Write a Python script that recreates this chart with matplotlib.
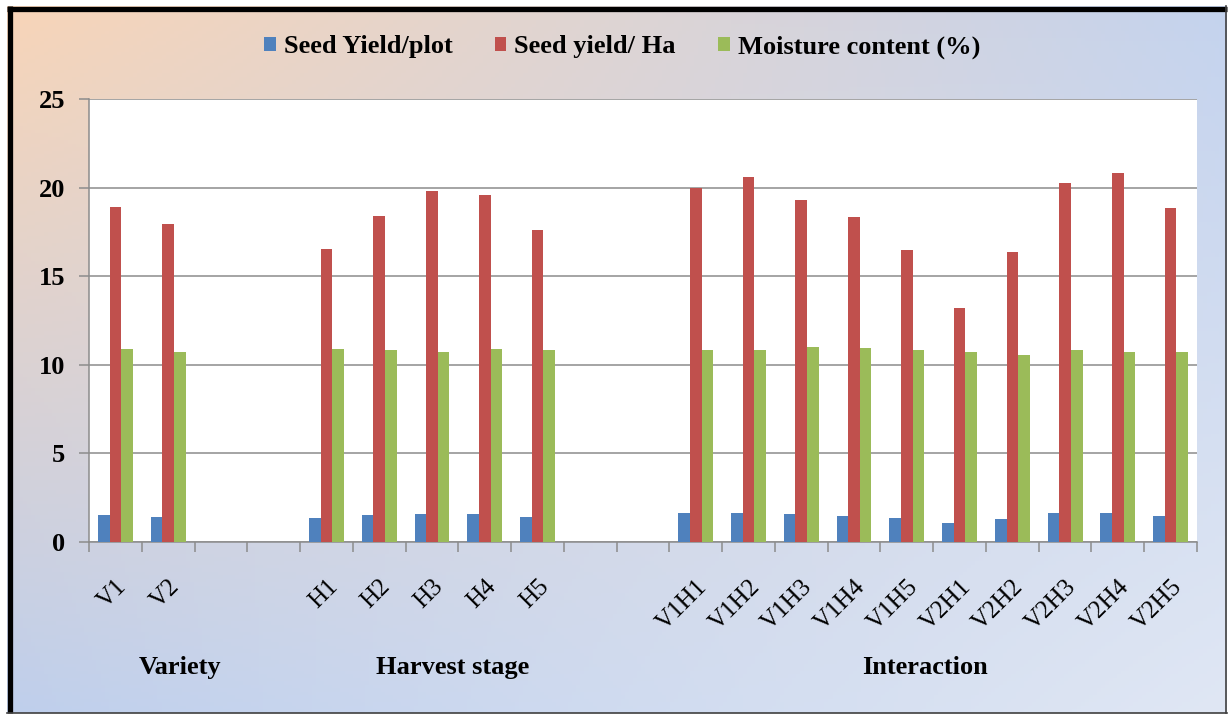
import numpy as np
import matplotlib
matplotlib.use("Agg")
import matplotlib.pyplot as plt
from matplotlib.lines import Line2D
from matplotlib.patches import Patch

# ---------------- data ----------------
variety = ["V1", "V2"]
harvest = ["H1", "H2", "H3", "H4", "H5"]
interaction = ["V1H1", "V1H2", "V1H3", "V1H4", "V1H5",
               "V2H1", "V2H2", "V2H3", "V2H4", "V2H5"]
group_names = ["Variety", "Harvest stage", "Interaction"]

series_names = ["Seed Yield/plot", "Seed yield/ Ha", "Moisture content (%)"]

seed_yield_plot_var = [1.51, 1.41]
seed_yield_plot_har = [1.34, 1.51, 1.58, 1.58, 1.41]
seed_yield_plot_int = [1.64, 1.64, 1.56, 1.48, 1.35, 1.05, 1.28, 1.64, 1.64, 1.48]

seed_yield_ha_var = [18.91, 17.93]
seed_yield_ha_har = [16.54, 18.38, 19.81, 19.59, 17.63]
seed_yield_ha_int = [20.00, 20.58, 19.30, 18.33, 16.48, 13.20, 16.39, 20.28, 20.83, 18.85]

moisture_var = [10.88, 10.73]
moisture_har = [10.88, 10.81, 10.73, 10.88, 10.81]
moisture_int = [10.86, 10.86, 11.03, 10.94, 10.81, 10.71, 10.58, 10.81, 10.71, 10.71]

y_ticks = [0, 5, 10, 15, 20, 25]

# ---------------- layout ----------------
W, H = 1231, 717
fig = plt.figure(figsize=(W / 100, H / 100), dpi=100, facecolor="white")

SERIF = ["Liberation Serif", "DejaVu Serif"]
colors = ["#4f81bd", "#c0504d", "#9bbb59"]

# gradient background (inside the frame)
bx0, bx1, by0, by1 = 7 / W, 1227 / W, 1 - 713 / H, 1 - 6 / H
bg = fig.add_axes([bx0, by0, bx1 - bx0, by1 - by0], zorder=0)
tl = np.array([248, 213, 184]) / 255
tr = np.array([196, 211, 238]) / 255
bl = np.array([191, 207, 236]) / 255
br = np.array([224, 231, 244]) / 255
u = np.linspace(0, 1, 300)[None, :, None]
v = np.linspace(0, 1, 200)[:, None, None]
img = (1 - v) * ((1 - u) * tl + u * tr) + v * ((1 - u) * bl + u * br)
bg.imshow(img, aspect="auto", extent=[0, 1, 0, 1], origin="upper")
bg.set_axis_off()

# frame
fig.add_artist(Line2D([9.5 / W, 9.5 / W], [1 - 713 / H, 1 - 6 / H], color="black", lw=3.8,
                      transform=fig.transFigure, solid_capstyle="butt", zorder=10))
fig.add_artist(Line2D([7 / W, 1227 / W], [1 - 9 / H, 1 - 9 / H], color="black", lw=3.8,
                      transform=fig.transFigure, solid_capstyle="butt", zorder=10))
fig.add_artist(Line2D([1226 / W, 1226 / W], [1 - 713 / H, 1 - 6 / H], color="#404040", lw=1.2,
                      transform=fig.transFigure, zorder=10))
fig.add_artist(Line2D([7 / W, 1227 / W], [1 - 712.5 / H, 1 - 712.5 / H], color="#404040", lw=1.2,
                      transform=fig.transFigure, zorder=10))

# main axes
left, right, top, bottom = 89 / W, 1197 / W, 1 - 99 / H, 1 - 542 / H
ax = fig.add_axes([left, bottom, right - left, top - bottom], zorder=2)
ax.set_facecolor("white")

gap = 2
pos_var = np.arange(len(variety))
pos_har = pos_var[-1] + 1 + gap + np.arange(len(harvest))
pos_int = pos_har[-1] + 1 + gap + np.arange(len(interaction))
positions = np.concatenate([pos_var, pos_har, pos_int])
labels = variety + harvest + interaction
n_slots = positions[-1] + 1

series = [
    seed_yield_plot_var + seed_yield_plot_har + seed_yield_plot_int,
    seed_yield_ha_var + seed_yield_ha_har + seed_yield_ha_int,
    moisture_var + moisture_har + moisture_int,
]
bw = 0.22
for i, (vals, c, name) in enumerate(zip(series, colors, series_names)):
    ax.bar(positions + (i - 1) * bw, vals, width=bw, color=c, label=name, zorder=3,
           linewidth=0)

ax.set_xlim(-0.5, n_slots - 0.5)
ax.set_ylim(0, 25)
ax.set_yticks(y_ticks)
ax.set_yticklabels([str(t) for t in y_ticks], fontfamily=SERIF, fontweight="bold", fontsize=19)
ax.grid(axis="y", color="#8c8c8c", lw=1.1, zorder=1)
ax.tick_params(axis="y", length=7, width=1.1, color="#8c8c8c", pad=10)

ax.set_xticks(positions)
ax.set_xticklabels(labels, fontfamily=SERIF, fontsize=18, rotation=45,
                   ha="right", va="top", rotation_mode="anchor")
ax.tick_params(axis="x", which="major", length=0, pad=24)
ax.set_xticks(np.arange(n_slots + 1) - 0.5, minor=True)
ax.tick_params(axis="x", which="minor", length=7, width=1.1, color="#8c8c8c")

for s in ["top", "right"]:
    ax.spines[s].set_visible(False)
for s in ["left", "bottom"]:
    ax.spines[s].set_color("#8c8c8c")
    ax.spines[s].set_linewidth(1.1)

# group labels
group_x = [pos_var.mean() + 0.72, pos_har.mean() + 0.39, pos_int.mean() - 0.15]
for gx, gname in zip(group_x, group_names):
    ax.text(gx, -0.283, gname, transform=ax.get_xaxis_transform(), ha="center", va="center",
            fontfamily=SERIF, fontweight="bold", fontsize=19)

# legend
handles = [Patch(facecolor=c, edgecolor="none") for c in colors]
leg = fig.legend(handles, series_names, loc="center", bbox_to_anchor=(622 / W, 1 - 47 / H),
                 ncol=3, frameon=False, handlelength=0.45, handleheight=0.45,
                 handletextpad=0.3, columnspacing=1.6,
                 prop={"family": SERIF, "weight": "bold", "size": 19})

fig.savefig("out.png", dpi=100, facecolor="white")
